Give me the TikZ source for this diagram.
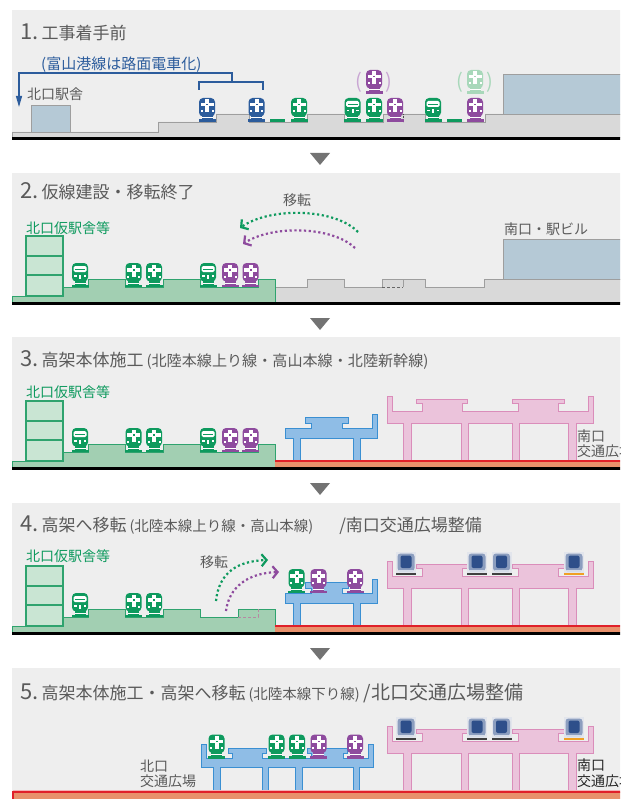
\documentclass[tikz,border=0pt]{standalone}
\usepackage{fontspec}
\setmainfont{Noto Sans CJK JP}
\usepackage{tikz}
\usetikzlibrary{arrows.meta}

\definecolor{cfond}{HTML}{EEEEEE}
\definecolor{cgris}{HTML}{D9D9D9}
\definecolor{cgrisbord}{HTML}{9E9E9E}
\definecolor{cgare}{HTML}{B5C9D6}
\definecolor{cvert}{HTML}{0E9A5E}
\definecolor{cvertpale}{HTML}{A8D8BA}
\definecolor{cvertsol}{HTML}{A2CFB2}
\definecolor{cvertbat}{HTML}{C9E5D3}
\definecolor{cvertbord}{HTML}{2FA36E}
\definecolor{cmauve}{HTML}{8E4B9E}
\definecolor{cmauvepale}{HTML}{C9A6D3}
\definecolor{cbleu}{HTML}{2C5C9C}
\definecolor{crose}{HTML}{EBC3DB}
\definecolor{croseb}{HTML}{DA8DBA}
\definecolor{cviad}{HTML}{8FBDE6}
\definecolor{cviadb}{HTML}{3A8FD2}
\definecolor{crouge}{HTML}{E0202A}
\definecolor{csaumon}{HTML}{E8916C}
\definecolor{ctexte}{HTML}{5A5A5A}
\definecolor{cfleche}{HTML}{737373}
\definecolor{cshin}{HTML}{2E4F8A}
\definecolor{cshinfond}{HTML}{E2E5EC}
\definecolor{corange}{HTML}{F0A024}

\newcommand\numfont{\fontsize{22pt}{24pt}\selectfont}
\newcommand\etapefont{\fontsize{17pt}{20pt}\selectfont}
\newcommand\parenfont{\fontsize{14.5pt}{17pt}\selectfont}
\newcommand\etiqfont{\fontsize{14pt}{16pt}\selectfont}

\begin{document}
\begin{tikzpicture}[
    x=1pt, y=-1pt,
    % styles des sols et ouvrages
    solgris/.style  = {fill=cgris, draw=cgrisbord, line width=0.9pt},
    solvert/.style  = {fill=cvertsol, draw=cvertbord, line width=0.9pt},
    batvert/.style  = {fill=cvertbat, draw=cvertbord, line width=1.2pt},
    gare/.style     = {fill=cgare, draw=cgrisbord, line width=0.9pt},
    viadrose/.style = {fill=crose, draw=croseb, line width=0.9pt},
    viadbleu/.style = {fill=cviad, draw=cviadb, line width=0.9pt},
    % styles des textes
    titre/.style    = {anchor=base west, inner sep=0pt, text=ctexte},
    etiq/.style     = {anchor=base west, inner sep=0pt, text=ctexte, font=\etiqfont},
    etiqvert/.style = {etiq, text=cvert},
    transfert/.style = {line width=2.2pt, dash pattern=on 2.2pt off 2.6pt,
                        -{Straight Barb[length=5pt,width=12pt,line width=2.2pt]}},
    % icones des trains (origine : milieu de la base)
    pics/trainx/.style = {code={
        \fill[#1] (-8.5,-2.5) rectangle (8.5,0);
        \fill[#1] (-5.5,-6.5) rectangle (5.5,-2.5);
        \fill[#1, rounded corners=4pt] (-8,-5.5) rectangle (8,-24);
        \fill[white] (-6.5,-19) rectangle (6.5,-15.5);
        \fill[white] (-2,-22.5) rectangle (2,-10);
        \fill[#1] (-1,-18) rectangle (1,-16.5);
        \fill[white] (-6.5,-11.5) rectangle (-4.5,-9.5);
        \fill[white] (4.5,-11.5) rectangle (6.5,-9.5);
        \fill[white] (-5.5,-4.5) rectangle (5.5,-3.7);
    }},
    pics/trainb/.style = {code={
        \fill[#1] (-8.5,-2.5) rectangle (8.5,0);
        \fill[#1] (-5.5,-6.5) rectangle (5.5,-2.5);
        \fill[#1, rounded corners=4pt] (-8,-5.5) rectangle (8,-24);
        \fill[white, rounded corners=1.5pt] (-6.5,-21) rectangle (6.5,-15);
        \fill[#1] (-5,-18.4) rectangle (5,-17.6);
        \fill[white] (-6,-12) rectangle (-3.5,-10.5);
        \fill[white] (3.5,-12) rectangle (6,-10.5);
        \fill[white] (-1,-12.5) rectangle (1,-8.5);
        \fill[white] (-5.5,-4.5) rectangle (5.5,-3.7);
    }},
    pics/shinkansen/.style = {code={
        \fill[cshinfond] (-10,-23) rectangle (10,-2);
        \fill[cshin!55, rounded corners=3pt] (-8.5,-21.5) rectangle (8.5,-4);
        \fill[cshin, rounded corners=2pt] (-5.5,-19.5) rectangle (5.5,-7);
        \fill[white!80!cshin] (-7,-5.5) rectangle (7,-3.5);
        \fill[#1] (-10,-2) rectangle (10,0);
    }},
    % sol nord (terre-plein vert + batiment provisoire)
    pics/solnord/.style = {code={
        \draw[solvert] (12,302) -- (12,296) -- (63,296) -- (63,287) -- (88,287)
            -- (88,279) -- (125,279) -- (125,287) -- (163,287) -- (163,279)
            -- (200,279) -- (200,287) -- (#1,287) -- (#1,279) -- (275,279)
            -- (275,302) -- cycle;
        \draw[batvert] (26,236) rectangle (63,256);
        \draw[batvert] (26,256) rectangle (63,275);
        \draw[batvert] (26,275) rectangle (63,296);
    }},
    % viaducs (coordonnees de l'etape 3)
    pics/viadrose/.style = {code={
        \draw[viadrose] (387,396) -- (392,396) -- (392,411) -- (422,411) -- (422,403)
            -- (416,403) -- (416,399) -- (467,399) -- (467,403) -- (462,403)
            -- (462,411) -- (518,411) -- (518,403) -- (512,403) -- (512,399)
            -- (564,399) -- (564,403) -- (558,403) -- (558,411) -- (588,411)
            -- (588,396) -- (593,396) -- (593,423) -- (576,423) -- (576,461)
            -- (568,461) -- (568,423) -- (519,423) -- (519,461) -- (512,461)
            -- (512,423) -- (468,423) -- (468,461) -- (461,461) -- (461,423)
            -- (411,423) -- (411,461) -- (403,461) -- (403,423) -- (387,423) -- cycle;
    }},
    pics/viadbleu/.style = {code={
        \draw[viadbleu] (285,428) -- (311,428) -- (311,423) -- (305,423) -- (305,417)
            -- (348,417) -- (348,423) -- (342,423) -- (342,428) -- (372,428)
            -- (372,414) -- (377,414) -- (377,438) -- (360,438) -- (360,461)
            -- (353,461) -- (353,438) -- (300,438) -- (300,461) -- (293,461)
            -- (293,438) -- (285,438) -- cycle;
    }},
]
\useasboundingbox (0,0) rectangle (620,799);
\clip (0,0) rectangle (620,799);

% ── Fonds des cinq etapes ────────────────────────────────────────────────────
\fill[cfond] (12,10)  rectangle (621,137);
\fill[cfond] (12,173) rectangle (621,302);
\fill[cfond] (12,337) rectangle (621,467);
\fill[cfond] (12,503) rectangle (621,632);
\fill[cfond] (12,668) rectangle (621,800);

\foreach \k in {0,1,2,3}
    \fill[cfleche] (310,153+165*\k) -- (330,153+165*\k) -- (320,165+165*\k) -- cycle;

% ── Etape 1 ──────────────────────────────────────────────────────────────────
\node[titre] (titre1) at (20,40) {\numfont 1.\hspace{3pt}\etapefont 工事着手前};

\draw[solgris] (12,137) -- (12,132) -- (158,132) -- (158,122) -- (216,122)
    -- (216,114) -- (249,114) -- (249,122) -- (307,122) -- (307,114)
    -- (344,114) -- (344,122) -- (383,122) -- (383,114) -- (425,114)
    -- (425,122) -- (485,122) -- (485,114) -- (621,114) -- (621,137) -- cycle;
\draw[black!70, densely dotted, line width=0.6pt] (403,114) -- (403,122);
\draw[gare] (31,105) rectangle (70,132);
\draw[gare] (503,74) rectangle (622,114);

\fill[cvert] (270,119.5) rectangle (285,122);
\fill[cvert] (447,119.5) rectangle (462,122);
\pic at (207,122)   {trainx=cbleu};
\pic at (256.5,122) {trainx=cbleu};
\pic at (299,122)   {trainx=cvert};
\pic at (352.5,122) {trainb=cvert};
\pic at (374,122)   {trainx=cvert};
\pic at (395,122)   {trainx=cmauve};
\pic at (433,122)   {trainb=cvert};
\pic at (475,122)   {trainx=cmauve};
\pic at (374,94)    {trainx=cmauve};
\pic at (475,94)    {trainx=cvertpale};
\node[text=cmauvepale, font=\fontsize{20pt}{22pt}\selectfont, inner sep=0pt] (pg1) at (359,82) {(};
\node[text=cmauvepale, font=\fontsize{20pt}{22pt}\selectfont, inner sep=0pt] (pd1) at (389,82) {)};
\node[text=cvertpale, font=\fontsize{20pt}{22pt}\selectfont, inner sep=0pt] (pg2) at (460,82) {(};
\node[text=cvertpale, font=\fontsize{20pt}{22pt}\selectfont, inner sep=0pt] (pd2) at (490,82) {)};

\node[etiq] (gare1) at (27,99.5) {北口駅舎};
\node[etiq, text=cbleu, font=\fontsize{15pt}{17pt}\selectfont] (tramway) at (41,70)
    {(富山港線は路面電車化)};
\coordinate (crochet) at (232,82);
\coordinate (pointe) at (19,107);
\draw[cbleu, line width=1.3pt] (199,90) -- (199,82) -- (263,82) -- (263,90);
\draw[cbleu, line width=1.3pt, -{Triangle[length=11pt,width=6pt]}]
    (crochet) -- (232,73) -| (pointe);

\fill[black] (12,137) rectangle (621,140);

% ── Etape 2 ──────────────────────────────────────────────────────────────────
\node[titre] (titre2) at (20,199) {\numfont 2.\hspace{3pt}\etapefont 仮線建設・移転終了};

\draw[solgris] (275,302) -- (275,287) -- (307,287) -- (307,279) -- (344,279)
    -- (344,287) -- (382,287) -- (382,279) -- (425,279) -- (425,287)
    -- (484,287) -- (484,279) -- (621,279) -- (621,302) -- cycle;
\draw[cgrisbord, line width=0.9pt] (403,279) -- (403,287);
\draw[black!60, densely dashed, line width=0.6pt] (382,287) -- (403,287);
\draw[gare] (503,239) rectangle (622,279);
\pic at (0,0) {solnord=258};

\pic at (80,287)    {trainb=cvert};
\pic at (133.5,287) {trainx=cvert};
\pic at (154,287)   {trainx=cvert};
\pic at (208,287)   {trainb=cvert};
\pic at (230,287)   {trainx=cmauve};
\pic at (250.5,287) {trainx=cmauve};

\node[etiqvert] (provisoire2) at (26,234) {北口仮駅舎等};
\node[etiq] (sudgare) at (504,234.5) {南口・駅ビル};
\node[etiq] (transfert2) at (283,205.5) {移転};
\coordinate (depv2) at (358,232);
\coordinate (arrv2) at (240,228);
\coordinate (depm2) at (355,248);
\coordinate (arrm2) at (243,244);
\draw[transfert, cvert]  (depv2) .. controls (335,208) and (270,207) .. (arrv2);
\draw[transfert, cmauve] (depm2) .. controls (332,226) and (272,225) .. (arrm2);

\fill[black] (12,302) rectangle (621,305);

% ── Etape 3 ──────────────────────────────────────────────────────────────────
\node[titre] (titre3) at (20,366) {\numfont 3.\hspace{3pt}\etapefont 高架本体施工\hspace{3pt}%
    \fontsize{15.1pt}{17pt}\selectfont(北陸本線上り線・高山本線・北陸新幹線)};

\pic at (0,165) {solnord=258};
\pic at (0,0) {viadbleu};
\pic at (0,0) {viadrose};
\fill[csaumon] (275,462) rectangle (621,467);
\draw[crouge, line width=1.5pt] (275,461) -- (621,461);

\pic at (80,452)    {trainb=cvert};
\pic at (133.5,452) {trainx=cvert};
\pic at (154,452)   {trainx=cvert};
\pic at (208,452)   {trainb=cvert};
\pic at (230,452)   {trainx=cmauve};
\pic at (250.5,452) {trainx=cmauve};

\node[etiqvert] (provisoire3) at (26,397.5) {北口仮駅舎等};
\node[etiq] (sud3a) at (577,441.5) {南口};
\node[etiq] (sud3b) at (577,456.5) {交通広場};

\fill[black] (12,467) rectangle (621,470);

% ── Etape 4 ──────────────────────────────────────────────────────────────────
\node[titre] (titre4) at (20,531) {\numfont 4.\hspace{3pt}\etapefont 高架へ移転\hspace{3pt}%
    \parenfont(北陸本線上り線・高山本線)\etapefont\hspace{26pt}/\hspace{0pt}南口交通広場整備};

\pic at (0,330) {solnord=238};
\draw[croseb!60!gray, densely dashed, line width=0.6pt] (238,617) -- (258,617) -- (258,609);
\pic at (0,165) {viadbleu};
\pic at (0,165) {viadrose};
\fill[csaumon] (275,627) rectangle (621,632);
\draw[crouge, line width=1.5pt] (275,626) -- (621,626);

\pic at (80,617)    {trainb=cvert};
\pic at (133.5,617) {trainx=cvert};
\pic at (154,617)   {trainx=cvert};
\pic at (296.5,593) {trainx=cvert};
\pic at (318.5,593) {trainx=cmauve};
\pic at (355,593)   {trainx=cmauve};
\pic at (406,575)   {shinkansen=black!75};
\pic at (477,575)   {shinkansen=black!75};
\pic at (501.5,575) {shinkansen=black!75};
\pic at (574,575)   {shinkansen=corange};

\node[etiqvert] (provisoire4) at (26,561.5) {北口仮駅舎等};
\node[etiq] (transfert4) at (200,567) {移転};
\coordinate (depv4) at (216,601);
\coordinate (arrv4) at (268,560);
\coordinate (depm4) at (226,611);
\coordinate (arrm4) at (279,572);
\draw[transfert, cvert]  (depv4) .. controls (219,572) and (238,561) .. (arrv4);
\draw[transfert, cmauve] (depm4) .. controls (229,587) and (248,573) .. (arrm4);

\fill[black] (12,632) rectangle (621,635);

% ── Etape 5 ──────────────────────────────────────────────────────────────────
\node[titre] (titre5) at (20,699) {\numfont 5.\hspace{3pt}\etapefont 高架本体施工・高架へ移転\hspace{3pt}%
    \parenfont(北陸本線下り線)\hspace{4pt}\fontsize{19pt}{21pt}\selectfont/北口交通広場整備};

\draw[viadbleu] (201,744) -- (206,744) -- (206,758) -- (232,758) -- (232,753)
    -- (228,753) -- (228,748) -- (266,748) -- (266,753) -- (262,753)
    -- (262,758) -- (311,758) -- (311,753) -- (307,753) -- (307,748)
    -- (347,748) -- (347,753) -- (343,753) -- (343,758) -- (368,758)
    -- (368,744) -- (373,744) -- (373,767) -- (359,767) -- (359,792)
    -- (353,792) -- (353,767) -- (302,767) -- (302,792) -- (295,792)
    -- (295,767) -- (268,767) -- (268,792) -- (262,792) -- (262,767)
    -- (220,767) -- (220,792) -- (213,792) -- (213,767) -- (201,767) -- cycle;
\pic at (0,330) {viadrose};
\draw[crouge!35, line width=1pt] (13,790) -- (621,790);
\draw[crouge, fill=csaumon, line width=1.3pt] (13,792) rectangle (625,805);

\pic at (216.5,758.5) {trainx=cvert};
\pic at (276.5,758.5) {trainx=cvert};
\pic at (297,758.5)   {trainx=cvert};
\pic at (318.5,758.5) {trainx=cmauve};
\pic at (355,758.5)   {trainx=cmauve};
\pic at (406,740)     {shinkansen=black!75};
\pic at (477,740)     {shinkansen=black!75};
\pic at (501.5,740)   {shinkansen=black!75};
\pic at (574,740)     {shinkansen=corange};

\node[etiq] (nord5a) at (140,771) {北口};
\node[etiq] (nord5b) at (140,786) {交通広場};
\node[etiq, text=black!85] (sud5a) at (577,770.5) {南口};
\node[etiq, text=black!85] (sud5b) at (577,786) {交通広場};

\end{tikzpicture}
\end{document}
